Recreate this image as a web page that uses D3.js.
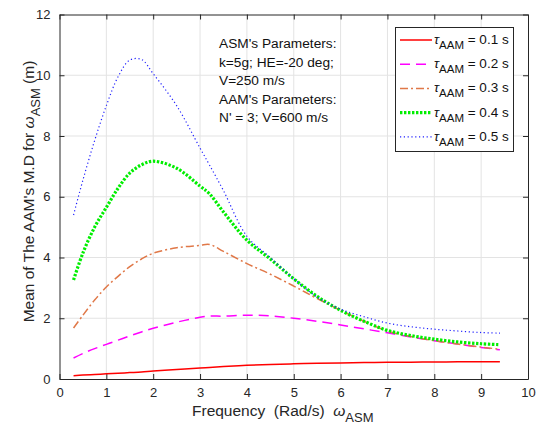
<!DOCTYPE html>
<html>
<head>
<meta charset="UTF-8">
<script src="https://cdn.jsdelivr.net/npm/d3@7"></script>
<style>
  body { margin: 0; background: #fff; }
  text { font-family: "Liberation Sans", Arial, sans-serif; white-space: pre; }
</style>
</head>
<body>
<div id="chart"></div>
<script>
// data
var freq = [0.3, 0.5, 0.75, 1, 1.25, 1.5, 1.75, 2, 2.5, 3, 3.2, 3.5, 4, 4.5, 5, 5.5, 6, 6.5, 7, 7.5, 8, 8.5, 9, 9.4];
var tau01 = [0.11, 0.13, 0.15, 0.17, 0.19, 0.21, 0.23, 0.26, 0.31, 0.36, 0.38, 0.41, 0.45, 0.48, 0.5, 0.52, 0.53, 0.54, 0.55, 0.555, 0.56, 0.565, 0.57, 0.57];
var tau02 = [0.69, 0.84, 1.0, 1.14, 1.28, 1.42, 1.55, 1.67, 1.87, 2.03, 2.07, 2.07, 2.1, 2.08, 2.0, 1.9, 1.78, 1.65, 1.52, 1.38, 1.26, 1.15, 1.04, 0.96];
var tau03 = [1.68, 2.1, 2.6, 3.03, 3.38, 3.7, 3.95, 4.14, 4.32, 4.4, 4.43, 4.2, 3.8, 3.45, 3.06, 2.65, 2.26, 1.9, 1.58, 1.4, 1.26, 1.15, 1.05, 0.98];
var tau04 = [3.26, 4.15, 5.0, 5.65, 6.28, 6.78, 7.05, 7.17, 6.94, 6.35, 6.1, 5.5, 4.57, 3.95, 3.3, 2.72, 2.26, 1.9, 1.6, 1.43, 1.31, 1.22, 1.16, 1.13];
var tau05 = [5.4, 6.55, 7.85, 9.0, 9.95, 10.5, 10.52, 10.05, 9.0, 7.6, 7.05, 6.2, 4.7, 4.0, 3.3, 2.7, 2.3, 2.05, 1.84, 1.72, 1.64, 1.58, 1.53, 1.51];
var legendLabels = ["0.1", "0.2", "0.3", "0.4", "0.5"];
var xTicks = [0, 1, 2, 3, 4, 5, 6, 7, 8, 9, 10];
var yTicks = [0, 2, 4, 6, 8, 10, 12];
var noteLines = ["ASM's Parameters:", "k=5g; HE=-20 deg;", "V=250 m/s", "AAM's Parameters:", "N' = 3; V=600 m/s"];

var width = 536, height = 434;
var margin = {top: 14.5, right: 8, bottom: 55, left: 59.5};

var svg = d3.select("#chart").append("svg")
  .attr("width", width)
  .attr("height", height);

var x = d3.scaleLinear().domain([0, 10]).range([margin.left, width - margin.right]);
var y = d3.scaleLinear().domain([0, 12]).range([height - margin.bottom, margin.top]);

// grid
svg.append("g").selectAll("line").data(xTicks.slice(1, -1)).join("line")
  .attr("x1", d => x(d)).attr("x2", d => x(d))
  .attr("y1", y(0)).attr("y2", y(12))
  .attr("stroke", "#e3e3e3").attr("stroke-width", 1);
svg.append("g").selectAll("line").data(yTicks.slice(1, -1)).join("line")
  .attr("x1", x(0)).attr("x2", x(10))
  .attr("y1", d => y(d)).attr("y2", d => y(d))
  .attr("stroke", "#e3e3e3").attr("stroke-width", 1);

// axes, matlab style ticks pointing inwards
var axisColor = "#262626";
function styleAxis(g) {
  g.select(".domain").attr("stroke", axisColor);
  g.selectAll(".tick line").attr("stroke", axisColor);
  g.selectAll(".tick text").attr("fill", axisColor).attr("font-size", "13px")
    .attr("font-family", "Liberation Sans, Arial, sans-serif");
}
svg.append("g")
  .attr("transform", "translate(0," + y(0) + ")")
  .call(d3.axisBottom(x).tickValues(xTicks).tickSizeInner(-5).tickSizeOuter(0).tickPadding(9))
  .call(styleAxis);
svg.append("g")
  .attr("transform", "translate(" + x(0) + ",0)")
  .call(d3.axisLeft(y).tickValues(yTicks).tickSizeInner(-5).tickSizeOuter(0).tickPadding(9))
  .call(styleAxis);
svg.append("g")
  .attr("transform", "translate(0," + y(12) + ")")
  .call(d3.axisTop(x).tickValues(xTicks).tickSizeInner(-5).tickSizeOuter(0).tickFormat(""))
  .call(styleAxis);
svg.append("g")
  .attr("transform", "translate(" + x(10) + ",0)")
  .call(d3.axisRight(y).tickValues(yTicks).tickSizeInner(-5).tickSizeOuter(0).tickFormat(""))
  .call(styleAxis);

// series
var series = [
  {vals: tau01, color: "#ff0000", width: 1.5, dash: null},
  {vals: tau02, color: "#ff00ff", width: 1.5, dash: "10,6"},
  {vals: tau03, color: "#e07848", width: 1.5, dash: "8,3,2,3"},
  {vals: tau04, color: "#00ee00", width: 3.2, dash: "2.4,1.6"},
  {vals: tau05, color: "#2020ff", width: 1.2, dash: "1.2,2.6"}
];

var line = d3.line()
  .x(d => x(d[0]))
  .y(d => y(d[1]))
  .curve(d3.curveCatmullRom.alpha(0.5));

svg.append("g").selectAll("path").data(series).join("path")
  .attr("d", s => line(freq.map((f, i) => [f, s.vals[i]])))
  .attr("fill", "none")
  .attr("stroke", s => s.color)
  .attr("stroke-width", s => s.width)
  .attr("stroke-dasharray", s => s.dash);

// annotation
svg.append("g").selectAll("text").data(noteLines).join("text")
  .attr("x", 219)
  .attr("y", (d, i) => 48 + i * 18.6)
  .attr("font-size", "13.7px")
  .attr("fill", "#111")
  .text(d => d);

// legend
var lg = svg.append("g");
lg.append("rect")
  .attr("x", 395.5).attr("y", 27.5).attr("width", 118).attr("height", 124)
  .attr("fill", "#fff").attr("stroke", axisColor).attr("stroke-width", 1);
var row = lg.selectAll("g").data(series).join("g")
  .attr("transform", (d, i) => "translate(0," + (40 + i * 24.2) + ")");
row.append("line")
  .attr("x1", 400).attr("x2", 432).attr("y1", 0).attr("y2", 0)
  .attr("stroke", d => d.color)
  .attr("stroke-width", d => d.width)
  .attr("stroke-dasharray", d => d.dash);
var lt = row.append("text")
  .attr("x", 434).attr("y", 4)
  .attr("font-size", "13.5px").attr("fill", "#111");
lt.append("tspan").attr("font-style", "italic").text("τ");
lt.append("tspan").attr("dy", 5).attr("font-size", "11.5px").text("AAM");
lt.append("tspan").attr("dy", -5).text((d, i) => " = " + legendLabels[i] + " s");

// axis labels
var xl = svg.append("text")
  .attr("x", 192).attr("y", 416)
  .attr("font-size", "15.5px").attr("fill", axisColor);
xl.append("tspan").text("Frequency  (Rad/s)  ");
xl.append("tspan").attr("font-style", "italic").text("ω");
xl.append("tspan").attr("dy", 6).attr("font-size", "13px").text("ASM");

var yl = svg.append("text")
  .attr("transform", "translate(34,191.5) rotate(-90)")
  .attr("text-anchor", "middle")
  .attr("font-size", "15.5px").attr("fill", axisColor);
yl.append("tspan").text("Mean of The AAM's M.D for ");
yl.append("tspan").attr("font-style", "italic").text("ω");
yl.append("tspan").attr("dy", 6).attr("font-size", "13px").text("ASM");
yl.append("tspan").attr("dy", -6).text(" (m)");
</script>
</body>
</html>
